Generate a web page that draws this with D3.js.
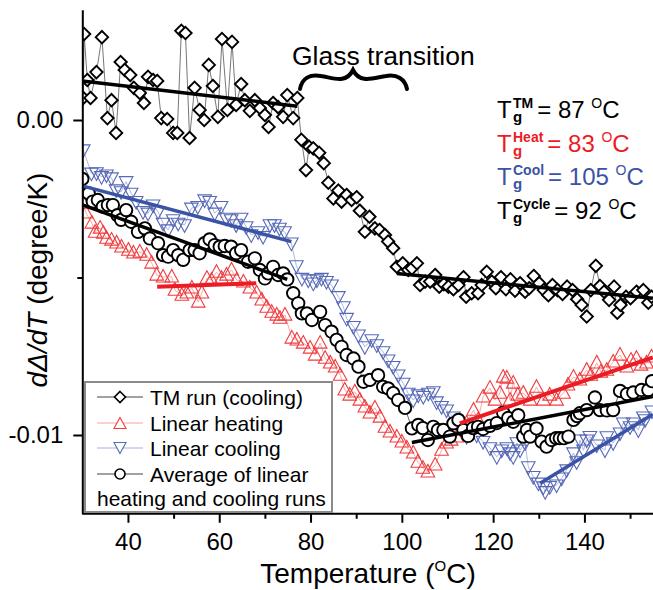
<!DOCTYPE html>
<html>
<head>
<meta charset="utf-8">
<script src="https://cdn.jsdelivr.net/npm/d3@7"></script>
<style>
  body { margin: 0; background: #fff; }
  text { font-family: Arial, "Liberation Sans", sans-serif; }
</style>
</head>
<body>
<div id="chart"></div>
<script>
var w = 653;
var h = 590;

// TM run (cooling) - diamonds
var tmTemp = [30.2, 30.4, 31.1, 31.8, 33.1, 34.3, 35.5, 36.4, 37.4, 38.4, 39.3, 40.5, 41.3, 42.6, 43.5, 44.4, 45.5, 46.4, 47.3, 48.6,
  49.9, 50.8, 51.7, 52.6, 53.5, 54.6, 55.7, 56.7, 57.7, 58.6, 59.7, 60.6, 61.8, 62.8, 63.7, 64.8, 65.6, 66.7, 67.8, 68.9,
  70.0, 70.8, 71.8, 72.9, 74.0, 74.9, 76.2, 77.1, 78.0, 79.0, 79.7, 80.6, 81.9, 82.9, 83.9, 85.0, 86.1, 86.8, 87.9, 89.0,
  90.1, 90.8, 91.9, 92.9, 94.1, 95.1, 96.3, 97.0, 98.1, 98.9, 100.2, 101.4, 102.2, 103.3, 104.0, 105.1, 106.2, 107.3, 108.2, 109.2,
  110.2, 111.3, 112.4, 113.5, 114.1, 115.3, 116.7, 117.5, 118.6, 119.7, 120.6, 121.7, 122.8, 123.8, 124.8, 125.9, 127.0, 127.9, 128.9, 130.1,
  131.1, 132.1, 133.0, 134.1, 135.2, 136.2, 137.4, 138.4, 139.4, 140.5, 141.4, 142.5, 143.4, 144.3, 145.4, 146.5, 147.2, 147.9, 149.1, 150.1,
  151.4, 152.9, 154.0, 154.7];
var tmVal = [0.00070, 0.00273, 0.00127, 0.00070, 0.00152, 0.00263, 0.00006, 0.00063, -0.00041, 0.00184, 0.00159, 0.00143, 0.00102, 0.00086, 0.00054, 0.00137, 0.00127, 0.00124, 0.00006, 0.00003,
  -0.00041, -0.00041, 0.00283, 0.00276, -0.00057, 0.00102, 0.00032, 0.00000, 0.00175, 0.00108, 0.00010, 0.00257, 0.00032, 0.00248, 0.00048, 0.00114, 0.00063, 0.00029, 0.00063, 0.00038,
  0.00016, -0.00022, 0.00054, 0.00041, 0.00010, 0.00079, 0.00006, 0.00070, -0.00063, -0.00159, -0.00085, -0.00090, -0.00104, -0.00137, -0.00199, -0.00249, -0.00224, -0.00259, -0.00238, -0.00254,
  -0.00245, -0.00288, -0.00355, -0.00307, -0.00344, -0.00349, -0.00365, -0.00386, -0.00407, -0.00466, -0.00455, -0.00476, -0.00471, -0.00455, -0.00524, -0.00513, -0.00513, -0.00492, -0.00529, -0.00521,
  -0.00529, -0.00537, -0.00524, -0.00499, -0.00561, -0.00550, -0.00550, -0.00524, -0.00482, -0.00513, -0.00534, -0.00499, -0.00537, -0.00506, -0.00542, -0.00518, -0.00545, -0.00534, -0.00495, -0.00518,
  -0.00540, -0.00556, -0.00524, -0.00540, -0.00552, -0.00529, -0.00540, -0.00569, -0.00587, -0.00624, -0.00540, -0.00463, -0.00527, -0.00545, -0.00571, -0.00529, -0.00612, -0.00587, -0.00561, -0.00566,
  -0.00545, -0.00540, -0.00580, -0.00561];

// Linear heating - up triangles
var heatTemp = [30.2, 30.8, 32.1, 32.8, 33.9, 34.6, 35.3, 36.4, 37.5, 38.6, 40.1, 41.2, 42.6, 44.1, 45.2, 46.3, 47.7, 49.6, 50.3, 51.8,
  52.9, 54.0, 55.4, 56.2, 57.3, 58.3, 59.4, 60.5, 61.6, 62.7, 63.8, 65.3, 66.7, 68.2, 69.3, 70.4, 71.5, 72.6, 73.3, 74.4,
  75.9, 77.0, 78.4, 79.9, 81.0, 82.1, 83.2, 84.3, 85.4, 86.5, 87.5, 88.6, 89.7, 90.8, 91.9, 93.0, 94.1, 95.2, 96.3, 97.4,
  98.9, 100.0, 101.1, 102.5, 103.5, 104.6, 105.7, 107.3, 108.7, 109.8, 110.8, 112.0, 113.2, 114.2, 115.7, 116.7, 117.8, 119.3, 120.4, 121.5,
  122.2, 123.0, 123.7, 124.4, 125.4, 126.6, 128.1, 129.5, 131.0, 132.4, 133.9, 135.4, 136.4, 137.6, 139.0, 140.5, 141.4, 142.7, 143.6, 144.9,
  146.3, 147.8, 149.3, 150.2, 151.4, 152.4, 153.6, 154.7];
var heatVal = [-0.00264, -0.00295, -0.00327, -0.00356, -0.00343, -0.00359, -0.00375, -0.00381, -0.00390, -0.00403, -0.00413, -0.00422, -0.00419, -0.00429, -0.00454, -0.00492, -0.00498, -0.00498, -0.00540, -0.00556,
  -0.00549, -0.00533, -0.00578, -0.00549, -0.00502, -0.00508, -0.00483, -0.00502, -0.00492, -0.00476, -0.00508, -0.00514, -0.00533, -0.00549, -0.00571, -0.00594, -0.00610, -0.00619, -0.00629, -0.00619,
  -0.00692, -0.00698, -0.00708, -0.00724, -0.00746, -0.00708, -0.00756, -0.00771, -0.00784, -0.00810, -0.00857, -0.00873, -0.00863, -0.00889, -0.00911, -0.00930, -0.00914, -0.00943, -0.00975, -0.00990,
  -0.01006, -0.01022, -0.01041, -0.01057, -0.01086, -0.01105, -0.01117, -0.01095, -0.01048, -0.01025, -0.01016, -0.01006, -0.00978, -0.00962, -0.00921, -0.00952, -0.00879, -0.00851, -0.00889, -0.00867,
  -0.00816, -0.00819, -0.00889, -0.00835, -0.00873, -0.00867, -0.00889, -0.00848, -0.00889, -0.00873, -0.00889, -0.00867, -0.00841, -0.00816, -0.00825, -0.00794, -0.00810, -0.00771, -0.00800, -0.00794,
  -0.00768, -0.00746, -0.00784, -0.00762, -0.00756, -0.00778, -0.00771, -0.00752];

// Linear cooling - down triangles
var coolTemp = [30.2, 32.0, 33.1, 34.2, 35.3, 36.4, 37.4, 38.5, 39.6, 40.7, 41.8, 43.3, 44.4, 45.5, 46.6, 47.7, 48.8, 49.9, 51.0, 52.4,
  53.9, 55.3, 56.8, 57.9, 59.0, 60.4, 61.5, 62.6, 63.7, 64.8, 65.9, 67.0, 68.5, 69.6, 71.1, 72.1, 73.2, 74.3, 75.8, 76.9,
  78.1, 79.5, 80.6, 81.4, 82.4, 83.5, 84.6, 86.1, 87.2, 87.9, 89.4, 90.5, 91.9, 93.4, 94.5, 95.9, 97.0, 98.1, 99.2, 100.3,
  101.4, 102.5, 103.6, 104.7, 105.8, 106.9, 107.6, 108.7, 109.8, 111.3, 112.7, 114.2, 115.1, 116.4, 117.8, 119.3, 120.8, 121.9, 123.0, 123.7,
  124.4, 125.2, 125.9, 127.0, 127.7, 128.8, 129.9, 131.0, 131.4, 132.4, 133.9, 135.0, 136.1, 137.6, 138.3, 139.0, 139.8, 140.5, 141.2, 142.7,
  144.5, 144.9, 146.3, 147.8, 148.5, 150.0, 150.7, 151.8, 152.9, 153.3, 154.8];
var coolVal = [-0.00095, -0.00169, -0.00168, -0.00180, -0.00175, -0.00184, -0.00222, -0.00228, -0.00196, -0.00233, -0.00259, -0.00291, -0.00296, -0.00270, -0.00291, -0.00328, -0.00349, -0.00317, -0.00328, -0.00333,
  -0.00280, -0.00275, -0.00254, -0.00259, -0.00296, -0.00275, -0.00312, -0.00317, -0.00333, -0.00312, -0.00339, -0.00365, -0.00355, -0.00370, -0.00333, -0.00333, -0.00344, -0.00355, -0.00391, -0.00463,
  -0.00503, -0.00508, -0.00518, -0.00508, -0.00503, -0.00513, -0.00524, -0.00561, -0.00593, -0.00630, -0.00656, -0.00683, -0.00720, -0.00698, -0.00714, -0.00736, -0.00762, -0.00783, -0.00810, -0.00836,
  -0.00868, -0.00889, -0.00873, -0.00878, -0.00868, -0.00863, -0.00895, -0.00910, -0.00921, -0.00943, -0.00975, -0.01005, -0.00984, -0.01000, -0.01021, -0.01041, -0.01069, -0.01048, -0.01041, -0.01057,
  -0.01069, -0.01025, -0.01048, -0.01025, -0.01101, -0.01132, -0.01153, -0.01165, -0.01180, -0.01164, -0.01159, -0.01137, -0.01111, -0.01057, -0.01085, -0.01016, -0.01048, -0.01016, -0.01005, -0.01032,
  -0.01048, -0.01006, -0.01025, -0.00994, -0.00962, -0.00974, -0.00962, -0.00984, -0.00943, -0.00952, -0.00924];

// Average of linear heating and cooling runs - circles
var avgTemp = [30.0, 31.4, 32.3, 33.4, 34.5, 35.6, 36.7, 37.7, 38.5, 39.6, 40.7, 42.2, 43.7, 44.8, 46.6, 47.7, 48.8, 49.9, 51.0, 52.1,
  53.5, 54.6, 55.7, 56.8, 57.9, 59.0, 60.1, 61.2, 62.6, 63.7, 64.8, 66.3, 67.8, 68.9, 70.0, 70.7, 71.8, 72.9, 74.0, 74.9,
  76.2, 77.3, 78.1, 79.2, 80.3, 82.1, 83.2, 84.6, 85.7, 86.8, 87.9, 89.4, 90.5, 91.6, 93.0, 94.8, 95.9, 97.0, 98.1, 99.2,
  100.7, 102.2, 103.6, 104.6, 105.7, 106.9, 107.9, 109.1, 110.5, 111.3, 112.4, 113.5, 114.5, 115.6, 116.7, 117.8, 119.3, 120.8, 122.2, 123.3,
  124.4, 125.5, 126.6, 127.4, 128.1, 129.5, 130.6, 131.7, 132.8, 133.8, 134.6, 135.5, 136.5, 137.6, 138.4, 139.0, 140.5, 142.3, 143.4, 144.9,
  146.3, 147.8, 149.3, 150.7, 152.5, 154.0, 154.8];
var avgVal = [-0.00187, -0.00233, -0.00259, -0.00254, -0.00275, -0.00270, -0.00270, -0.00302, -0.00317, -0.00286, -0.00323, -0.00355, -0.00344, -0.00376, -0.00391, -0.00429, -0.00434, -0.00413, -0.00429, -0.00444,
  -0.00413, -0.00413, -0.00423, -0.00391, -0.00379, -0.00397, -0.00402, -0.00400, -0.00402, -0.00423, -0.00413, -0.00450, -0.00439, -0.00476, -0.00503, -0.00487, -0.00466, -0.00492, -0.00487, -0.00506,
  -0.00550, -0.00582, -0.00614, -0.00614, -0.00635, -0.00609, -0.00651, -0.00672, -0.00698, -0.00720, -0.00746, -0.00757, -0.00783, -0.00831, -0.00825, -0.00810, -0.00847, -0.00852, -0.00867, -0.00889,
  -0.00914, -0.00979, -0.00968, -0.00978, -0.01016, -0.00974, -0.00984, -0.00984, -0.01005, -0.00963, -0.00952, -0.00984, -0.01003, -0.00978, -0.00974, -0.00981, -0.00971, -0.00962, -0.00929, -0.00946,
  -0.00958, -0.00937, -0.01005, -0.00984, -0.01005, -0.00979, -0.01021, -0.01037, -0.01016, -0.01010, -0.01010, -0.01010, -0.01005, -0.00952, -0.00940, -0.00931, -0.00921, -0.00881, -0.00921, -0.00922,
  -0.00921, -0.00860, -0.00870, -0.00865, -0.00857, -0.00857, -0.00829];

// linear fits (start / end temperature and value)
var tmFitLowT = [30.0, 77.1],  tmFitLowV = [0.00124, 0.00044];
var tmFitHighT = [98.9, 155],  tmFitHighV = [-0.00487, -0.00566];
var heatFitLowT = [46.4, 68.1], heatFitLowV = [-0.00529, -0.00518];
var heatFitHighT = [112.7, 155], heatFitHighV = [-0.00963, -0.00754];
var coolFitLowT = [30.2, 75.8], coolFitLowV = [-0.00210, -0.00386];
var coolFitHighT = [130.3, 155], coolFitHighV = [-0.01153, -0.00934];
var avgFitLowT = [30.2, 74.9],  avgFitLowV = [-0.00270, -0.00506];
var avgFitHighT = [102.2, 155], avgFitHighV = [-0.01024, -0.00878];

// tick labels and texts
var xTicks = [40, 60, 80, 100, 120, 140];
var xMinor = [50, 70, 90, 110, 130, 150];
var yTicks = [0, -0.01];
var yMinor = [-0.005];
var legendLabels = ["TM run (cooling)", "Linear heating", "Linear cooling", "Average of linear"];
var tgNames = ["TM", "Heat", "Cool", "Cycle"];
var tgValues = [87, 83, 105, 92];

var red = "#ec1c24", blue = "#3a53a4";
var tgColors = ["#000", red, blue, "#000"];

var svg = d3.select("#chart").append("svg")
  .attr("width", w)
  .attr("height", h)
  .style("background-color", "white");

var x = d3.scaleLinear().domain([30, 155]).range([82.3, 652.9]);
var y = d3.scaleLinear().domain([-0.0125, 0.0035]).range([513.75, 9.75]);

svg.append("clipPath").attr("id", "plotClip")
  .append("rect").attr("x", 82.3).attr("y", 0).attr("width", w - 82.3).attr("height", 513.75);

function zip(ts, vs) {
  return ts.map(function(t, i) { return { t: t, v: vs[i] }; });
}

var line = d3.line().x(function(d) { return x(d.t); }).y(function(d) { return y(d.v); });

function diamond(cx, cy, s) {
  return "M" + cx + "," + (cy - s) + "L" + (cx + s) + "," + cy + "L" + cx + "," + (cy + s) + "L" + (cx - s) + "," + cy + "Z";
}
function triUp(cx, cy, s) {
  return "M" + cx + "," + (cy - s * 1.1) + "L" + (cx + s) + "," + (cy + s * 0.75) + "L" + (cx - s) + "," + (cy + s * 0.75) + "Z";
}
function triDown(cx, cy, s) {
  return "M" + cx + "," + (cy + s * 1.1) + "L" + (cx + s) + "," + (cy - s * 0.75) + "L" + (cx - s) + "," + (cy - s * 0.75) + "Z";
}

var plot = svg.append("g").attr("clip-path", "url(#plotClip)");

var tm = zip(tmTemp, tmVal);
var heat = zip(heatTemp, heatVal);
var cool = zip(coolTemp, coolVal);
var avg = zip(avgTemp, avgVal);

// TM run
plot.append("path").datum(tm).attr("d", line)
  .attr("fill", "none").attr("stroke", "#666").attr("stroke-width", 0.9);
plot.selectAll(".tm").data(tm).enter().append("path")
  .attr("d", function(d) { return diamond(x(d.t), y(d.v), 6.2); })
  .attr("fill", "white").attr("stroke", "black").attr("stroke-width", 1.9);

// Linear heating
plot.append("path").datum(heat).attr("d", line)
  .attr("fill", "none").attr("stroke", "#f4a3a3").attr("stroke-width", 0.9);
plot.selectAll(".heat").data(heat).enter().append("path")
  .attr("d", function(d) { return triUp(x(d.t), y(d.v), 6.8); })
  .attr("fill", "none").attr("stroke", "#ef3d3f").attr("stroke-width", 1.1);

// Linear cooling
plot.append("path").datum(cool).attr("d", line)
  .attr("fill", "none").attr("stroke", "#a6b0dc").attr("stroke-width", 0.9);
plot.selectAll(".cool").data(cool).enter().append("path")
  .attr("d", function(d) { return triDown(x(d.t), y(d.v), 6.8); })
  .attr("fill", "none").attr("stroke", "#5668b6").attr("stroke-width", 1.1);

// Average
plot.append("path").datum(avg).attr("d", line)
  .attr("fill", "none").attr("stroke", "#444").attr("stroke-width", 0.8);
plot.selectAll(".avg").data(avg).enter().append("circle")
  .attr("cx", function(d) { return x(d.t); })
  .attr("cy", function(d) { return y(d.v); })
  .attr("r", 6.2)
  .attr("fill", "white").attr("stroke", "black").attr("stroke-width", 1.9);

// fit lines
var fits = [
  [tmFitLowT, tmFitLowV, "black", 3.5], [tmFitHighT, tmFitHighV, "black", 3.5],
  [heatFitLowT, heatFitLowV, red, 4], [heatFitHighT, heatFitHighV, red, 4],
  [coolFitLowT, coolFitLowV, blue, 3.5], [coolFitHighT, coolFitHighV, blue, 3.5],
  [avgFitLowT, avgFitLowV, "black", 3.5], [avgFitHighT, avgFitHighV, "black", 3.5]
];
fits.forEach(function(f) {
  plot.append("path").datum(zip(f[0], f[1])).attr("d", line)
    .attr("fill", "none").attr("stroke", f[2]).attr("stroke-width", f[3]);
});

// axes
var xAxis = svg.append("g")
  .attr("transform", "translate(0," + y.range()[0] + ")")
  .call(d3.axisBottom(x).tickValues(xTicks).tickSize(9).tickSizeOuter(0).tickPadding(10));
var xAxisMinor = svg.append("g")
  .attr("transform", "translate(0," + y.range()[0] + ")")
  .call(d3.axisBottom(x).tickValues(xMinor).tickSize(5).tickFormat(""));
xAxisMinor.select(".domain").remove();

var yAxis = svg.append("g")
  .attr("transform", "translate(" + x.range()[0] + ",0)")
  .call(d3.axisLeft(y).tickValues(yTicks).tickSize(9).tickSizeOuter(0).tickPadding(10)
    .tickFormat(function(d) { return d.toFixed(2); }));
var yAxisMinor = svg.append("g")
  .attr("transform", "translate(" + x.range()[0] + ",0)")
  .call(d3.axisLeft(y).tickValues(yMinor).tickSize(5).tickFormat(""));
yAxisMinor.select(".domain").remove();

[xAxis, xAxisMinor, yAxis, yAxisMinor].forEach(function(a) {
  a.selectAll("path, line").attr("stroke", "black").attr("stroke-width", 2);
  a.selectAll("text").attr("font-family", null).style("font-size", "24px").attr("fill", "black");
});
xAxis.select(".domain").attr("d", "M" + x.range()[0] + ",0H" + w);

// axis titles
var xt = svg.append("text").attr("x", 368).attr("y", 583).attr("text-anchor", "middle")
  .style("font-size", "28px");
xt.append("tspan").text("Temperature (");
xt.append("tspan").attr("dy", -12).style("font-size", "15px").text("O");
xt.append("tspan").attr("dy", 12).text("C)");

var yt = svg.append("text").attr("transform", "translate(47,280) rotate(-90)")
  .attr("text-anchor", "middle").style("font-size", "28px");
yt.append("tspan").style("font-style", "italic").text("d\u0394/dT");
yt.append("tspan").text(" (degree/K)");

// glass transition label with brace
svg.append("text").attr("x", 292).attr("y", 65).style("font-size", "26.5px").text("Glass transition");
svg.append("path")
  .attr("d", "M300,89 C302,78 310,74 321,76 C334,78 346,84 353,70 C360,84 373,78 386,76 C397,74 405,79 407,89")
  .attr("fill", "none").attr("stroke", "black").attr("stroke-width", 4).attr("stroke-linecap", "round");

// Tg values (subscript g and superscript stacked, as in the original)
tgNames.forEach(function(name, i) {
  var by = 118 + i * 33.5;
  var g = svg.append("g").attr("fill", tgColors[i]);
  g.append("text").attr("x", 497).attr("y", by).style("font-size", "24px").text("T");
  g.append("text").attr("x", 513).attr("y", by + 4).style("font-size", "15px").style("font-weight", "bold").text("g");
  var sup = g.append("text").attr("x", 513).attr("y", by - 10).style("font-size", "14px").style("font-weight", "bold").text(name);
  var sx = 513 + sup.node().getComputedTextLength() + 4;
  var t = g.append("text").attr("x", sx).attr("y", by).style("font-size", "24px");
  t.append("tspan").text("= " + tgValues[i] + " ");
  t.append("tspan").attr("dy", -10).style("font-size", "14px").text("O");
  t.append("tspan").attr("dy", 10).text("C");
});

// legend
var leg = svg.append("g");
leg.append("rect").attr("x", 85).attr("y", 382).attr("width", 247).attr("height", 130)
  .attr("fill", "white").attr("stroke", "#8a8a8a").attr("stroke-width", 2);
var legY = [397, 423, 448, 474];
var legLine = ["#444", "#f4a3a3", "#a6b0dc", "#444"];
legendLabels.forEach(function(lab, i) {
  var cy = legY[i];
  leg.append("line").attr("x1", 97).attr("x2", 143).attr("y1", cy).attr("y2", cy)
    .attr("stroke", legLine[i]).attr("stroke-width", 1);
  if (i === 0) {
    leg.append("path").attr("d", diamond(120, cy, 5.5)).attr("fill", "white").attr("stroke", "black").attr("stroke-width", 1.6);
  } else if (i === 1) {
    leg.append("path").attr("d", triUp(120, cy + 1, 6)).attr("fill", "white").attr("stroke", "#ef3d3f").attr("stroke-width", 1.1);
  } else if (i === 2) {
    leg.append("path").attr("d", triDown(120, cy - 1, 6)).attr("fill", "white").attr("stroke", "#5668b6").attr("stroke-width", 1.1);
  } else {
    leg.append("circle").attr("cx", 120).attr("cy", cy).attr("r", 5).attr("fill", "white").attr("stroke", "black").attr("stroke-width", 1.6);
  }
  leg.append("text").attr("x", 150).attr("y", cy + 7.5).style("font-size", "21px").text(lab);
});
leg.append("text").attr("x", 97).attr("y", 506).style("font-size", "21px").text("heating and cooling runs");
</script>
</body>
</html>
